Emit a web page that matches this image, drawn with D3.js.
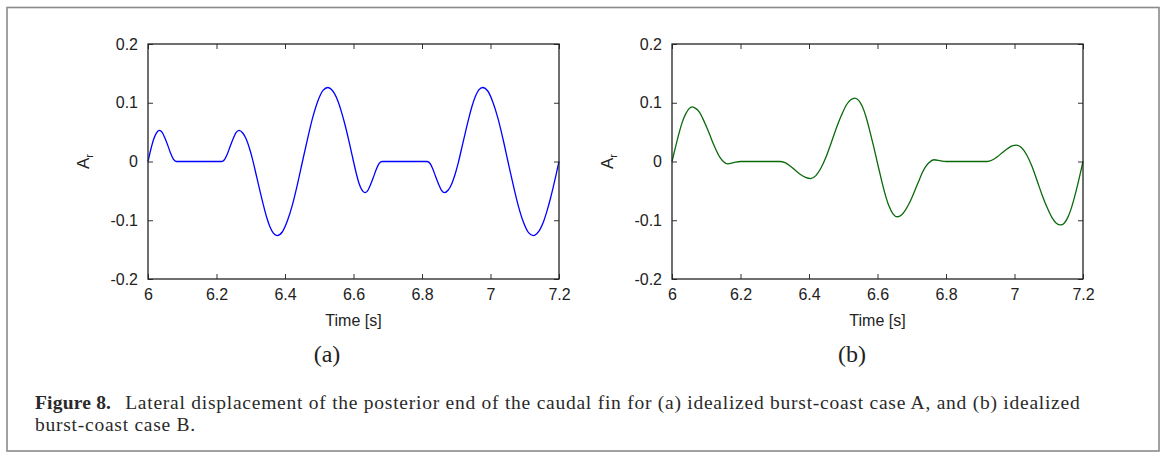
<!DOCTYPE html>
<html>
<head>
<meta charset="utf-8">
<script src="https://cdn.jsdelivr.net/npm/d3@7"></script>
<style>
  body { margin: 0; background: #fff; }
  svg { display: block; }
  .tick text { font-family: 'Liberation Sans', Arial, sans-serif; font-size: 16px; fill: #222; }
</style>
</head>
<body>
<div id="chart"></div>
<script>
// case A (blue)
let timesA = [6.000, 6.008, 6.016, 6.024, 6.033, 6.041, 6.050, 6.058, 6.066, 6.074, 6.083, 6.150,
  6.215, 6.223, 6.231, 6.240, 6.248, 6.257, 6.266, 6.276, 6.286, 6.296, 6.306, 6.316, 6.326, 6.336,
  6.346, 6.356, 6.366, 6.377, 6.392, 6.407, 6.422, 6.437, 6.451, 6.466, 6.481, 6.496, 6.511, 6.525,
  6.535, 6.545, 6.555, 6.565, 6.575, 6.585, 6.595, 6.600, 6.608, 6.616, 6.624, 6.633, 6.641, 6.650,
  6.658, 6.666, 6.674, 6.683, 6.750, 6.815, 6.823, 6.831, 6.840, 6.848, 6.857, 6.866, 6.876, 6.886,
  6.896, 6.906, 6.916, 6.926, 6.936, 6.946, 6.956, 6.966, 6.977, 6.992, 7.007, 7.022, 7.037, 7.051,
  7.066, 7.081, 7.096, 7.111, 7.125, 7.135, 7.145, 7.155, 7.165, 7.175, 7.185, 7.195, 7.200]
let valuesA = [0, 0.020, 0.037, 0.048, 0.053, 0.050, 0.039, 0.027, 0.014, 0.004, 0, 0,
  0, 0.003, 0.012, 0.026, 0.038, 0.049, 0.053, 0.049, 0.039, 0.023, 0.002, -0.023, -0.048, -0.072,
  -0.094, -0.111, -0.122, -0.126, -0.120, -0.101, -0.073, -0.037, 0, 0.039, 0.075, 0.103, 0.121, 0.126,
  0.123, 0.115, 0.102, 0.084, 0.063, 0.039, 0.013, 0, -0.020, -0.037, -0.048, -0.053, -0.050, -0.039,
  -0.027, -0.014, -0.004, 0, 0, 0, -0.003, -0.012, -0.026, -0.038, -0.049, -0.053, -0.049, -0.039,
  -0.023, -0.002, 0.023, 0.048, 0.072, 0.094, 0.111, 0.122, 0.126, 0.120, 0.101, 0.073, 0.037, 0,
  -0.039, -0.075, -0.103, -0.121, -0.126, -0.123, -0.115, -0.102, -0.084, -0.063, -0.039, -0.013, 0]

// case B (green)
let timesB = [6.000, 6.010, 6.020, 6.030, 6.040, 6.050, 6.059, 6.070, 6.080, 6.090, 6.100, 6.110,
  6.120, 6.130, 6.140, 6.150, 6.163, 6.180, 6.200, 6.250, 6.314, 6.330, 6.345, 6.360, 6.375, 6.390,
  6.405, 6.420, 6.435, 6.450, 6.465, 6.480, 6.495, 6.510, 6.522, 6.534, 6.545, 6.556, 6.567, 6.578,
  6.589, 6.600, 6.611, 6.622, 6.633, 6.645, 6.658, 6.670, 6.680, 6.690, 6.700, 6.710, 6.720, 6.730,
  6.740, 6.750, 6.765, 6.785, 6.800, 6.860, 6.920, 6.935, 6.950, 6.965, 6.980, 6.993, 7.006, 7.020,
  7.035, 7.050, 7.065, 7.080, 7.095, 7.110, 7.122, 7.135, 7.145, 7.155, 7.165, 7.175, 7.185, 7.193, 7.200]
let valuesB = [0, 0.024, 0.047, 0.067, 0.081, 0.090, 0.093, 0.090, 0.084, 0.073, 0.060, 0.046,
  0.031, 0.018, 0.007, 0, -0.004, -0.002, 0, 0, 0, -0.002, -0.0075, -0.015, -0.022, -0.027,
  -0.029, -0.024, -0.011, 0.008, 0.032, 0.057, 0.079, 0.097, 0.105, 0.108, 0.104, 0.093, 0.075, 0.051,
  0.025, -0.003, -0.030, -0.055, -0.075, -0.089, -0.094, -0.091, -0.084, -0.074, -0.062, -0.048, -0.034, -0.020,
  -0.009, -0.002, 0.003, 0.001, 0, 0, 0, 0.0025, 0.008, 0.0155, 0.022, 0.0265, 0.028, 0.024,
  0.012, -0.007, -0.031, -0.056, -0.078, -0.096, -0.105, -0.108, -0.105, -0.096, -0.081, -0.061, -0.038, -0.018, 0]

let xTicks = [6, 6.2, 6.4, 6.6, 6.8, 7, 7.2]
let yTicks = [-0.2, -0.1, 0, 0.1, 0.2]
let panelLabels = ['(a)', '(b)']
let captionBold = 'Figure 8.'
let captionLine1 = 'Lateral displacement of the posterior end of the caudal fin for (a) idealized burst-coast case A, and (b) idealized'
let captionLine2 = 'burst-coast case B.'

let width = 1163
let height = 453
let plotW = 411
let plotH = 235

let svg = d3
  .select('#chart')
  .append('svg')
  .attr('width', width)
  .attr('height', height)

// outer frame
svg
  .append('rect')
  .attr('x', 7)
  .attr('y', 7.5)
  .attr('width', 1152)
  .attr('height', 443.5)
  .attr('fill', 'none')
  .attr('stroke', '#8a8a8a')
  .attr('stroke-width', 1.6)

let x = d3.scaleLinear().domain([6, 7.2]).range([0, plotW])
let y = d3.scaleLinear().domain([-0.2, 0.2]).range([plotH, 0])

let line = d3
  .line()
  .x(d => x(d[0]))
  .y(d => y(d[1]))
  .curve(d3.curveMonotoneX)

let panels = [
  { left: 148, times: timesA, values: valuesA, color: '#0000ff', label: panelLabels[0], labelX: 327 },
  { left: 672, times: timesB, values: valuesB, color: '#0a690a', label: panelLabels[1], labelX: 852 }
]

panels.forEach(p => {
  let g = svg.append('g').attr('transform', `translate(${p.left},44)`)

  let fmt = d => String(d)

  g.append('g')
    .attr('transform', `translate(0,${plotH})`)
    .call(d3.axisBottom(x).tickValues(xTicks).tickFormat(fmt).tickSizeInner(-5).tickSizeOuter(0).tickPadding(10))
  g.append('g')
    .call(d3.axisLeft(y).tickValues(yTicks).tickFormat(fmt).tickSizeInner(-5).tickSizeOuter(0).tickPadding(10))
  g.append('g')
    .call(d3.axisTop(x).tickValues(xTicks).tickFormat('').tickSizeInner(-5).tickSizeOuter(0))
  g.append('g')
    .attr('transform', `translate(${plotW},0)`)
    .call(d3.axisRight(y).tickValues(yTicks).tickFormat('').tickSizeInner(-5).tickSizeOuter(0))

  g.selectAll('.domain').remove()
  g.selectAll('.tick line').attr('stroke', '#333')

  let pts = p.times.map((t, i) => [t, p.values[i]])
  g.append('path')
    .datum(pts)
    .attr('d', line)
    .attr('fill', 'none')
    .attr('stroke', p.color)
    .attr('stroke-width', 1.3)

  g.append('rect')
    .attr('width', plotW)
    .attr('height', plotH)
    .attr('fill', 'none')
    .attr('stroke', '#222')
    .attr('stroke-width', 1.3)

  g.append('text')
    .attr('x', plotW / 2)
    .attr('y', plotH + 47)
    .attr('text-anchor', 'middle')
    .style('font-family', "'Liberation Sans', Arial, sans-serif")
    .style('font-size', '16px')
    .attr('fill', '#222')
    .text('Time [s]')

  let yl = g.append('text')
    .attr('transform', `translate(-59,${plotH / 2}) rotate(-90)`)
    .attr('text-anchor', 'middle')
    .style('font-family', "'Liberation Sans', Arial, sans-serif")
    .style('font-size', '17px')
    .attr('fill', '#222')
  yl.append('tspan').text('A')
  yl.append('tspan').attr('dy', 4).style('font-size', '11px').text('r')

  svg.append('text')
    .attr('x', p.labelX)
    .attr('y', 362)
    .attr('text-anchor', 'middle')
    .style('font-family', "'Liberation Serif', 'Times New Roman', serif")
    .style('font-size', '24px')
    .attr('fill', '#222')
    .text(p.label)
})

// caption
let cap = svg.append('g')
  .style('font-family', "'Liberation Serif', 'Times New Roman', serif")
  .style('font-size', '19.5px')
  .style('letter-spacing', '0.75px')
  .attr('fill', '#2a2a2a')

let l1 = cap.append('text').attr('x', 35).attr('y', 409)
l1.append('tspan').style('font-weight', 'bold').style('letter-spacing', '0.2px').text(captionBold)
l1.append('tspan').attr('dx', 14).text(captionLine1)

cap.append('text').attr('x', 35).attr('y', 431).text(captionLine2)
</script>
</body>
</html>
